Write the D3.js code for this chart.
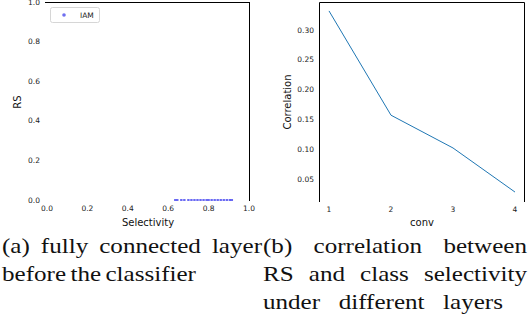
<!DOCTYPE html>
<html>
<head>
<meta charset="utf-8">
<script src="https://cdn.jsdelivr.net/npm/d3@7"></script>
<style>
  body { margin: 0; background: #fff; }
</style>
</head>
<body>
<div id="wrap"></div>
<script>
// left panel: RS vs selectivity (all points sit at RS = 0)
const selectivity = [0.635, 0.645, 0.665, 0.68, 0.70, 0.715, 0.73, 0.745, 0.76, 0.775, 0.79, 0.80, 0.815, 0.83, 0.845, 0.86, 0.875, 0.89, 0.905, 0.915];
const rsValues = [0, 0, 0, 0, 0, 0, 0, 0, 0, 0, 0, 0, 0, 0, 0, 0, 0, 0, 0, 0];
const leftTicks = [0.0, 0.2, 0.4, 0.6, 0.8, 1.0];

// right panel: correlation per conv layer
const convLayers = [1, 2, 3, 4];
const correlation = [0.332, 0.157, 0.102, 0.028];
const corrTicks = [0.05, 0.10, 0.15, 0.20, 0.25, 0.30];

// captions, one entry per line
const capA = ["(a) fully connected layer", "before the classifier"];
const capB = ["(b) correlation between", "RS and class selectivity", "under different layers"];

const svg = d3.select("#wrap").append("svg").attr("width", 530).attr("height", 326);
const tickFont = "DejaVu Sans";

// ---- left plot
const xL = d3.scaleLinear().domain([0, 1]).range([47, 249]);
const yL = d3.scaleLinear().domain([0, 1]).range([200, 2]);
const gL = svg.append("g");

// only top and right spines are visible
gL.append("line").attr("x1", 45).attr("x2", 249.5).attr("y1", 2.5).attr("y2", 2.5).attr("stroke", "#000").attr("stroke-width", 1);
gL.append("line").attr("x1", 249.5).attr("x2", 249.5).attr("y1", 2).attr("y2", 201).attr("stroke", "#000").attr("stroke-width", 1);

gL.selectAll(".yt").data(leftTicks).join("text")
  .attr("x", 40).attr("y", d => yL(d)).attr("dy", "0.35em")
  .attr("text-anchor", "end").attr("font-family", tickFont).attr("font-size", 7.5).attr("fill", "#222")
  .text(d => d3.format(".1f")(d));
gL.selectAll(".xt").data(leftTicks).join("text")
  .attr("x", d => xL(d)).attr("y", 211)
  .attr("text-anchor", "middle").attr("font-family", tickFont).attr("font-size", 7.5).attr("fill", "#222")
  .text(d => d3.format(".1f")(d));

gL.append("text").attr("x", 148).attr("y", 226).attr("text-anchor", "middle")
  .attr("font-family", tickFont).attr("font-size", 10).attr("fill", "#111").text("Selectivity");
gL.append("text").attr("transform", "translate(21,102) rotate(-90)").attr("text-anchor", "middle")
  .attr("font-family", tickFont).attr("font-size", 10).attr("fill", "#111").text("RS");

gL.selectAll(".pt").data(selectivity).join("rect")
  .attr("x", d => xL(d) - 1.2).attr("y", (d, i) => yL(rsValues[i]) - 0.8)
  .attr("width", 2.4).attr("height", 1.6).attr("fill", "#4646f0");

// legend
gL.append("rect").attr("x", 50.5).attr("y", 7.5).attr("width", 49).attr("height", 15).attr("rx", 2)
  .attr("fill", "#fff").attr("stroke", "#d6d6d6");
gL.append("circle").attr("cx", 64).attr("cy", 15).attr("r", 1.8).attr("fill", "#6f6ff0");
gL.append("text").attr("x", 80).attr("y", 15).attr("dy", "0.35em")
  .attr("font-family", tickFont).attr("font-size", 7.5).attr("fill", "#222").text("IAM");

// ---- right plot
const xR = d3.scaleLinear().domain([1, 4]).range([329, 515]);
const yR = d3.scaleLinear().domain([0.013, 0.347]).range([201, 2]);
const gR = svg.append("g");

gR.append("path").attr("d", "M319.5,202V2.5H524.5V202").attr("fill", "none").attr("stroke", "#000").attr("stroke-width", 1);

gR.selectAll(".yt").data(corrTicks).join("text")
  .attr("x", 314).attr("y", d => yR(d)).attr("dy", "0.35em")
  .attr("text-anchor", "end").attr("font-family", tickFont).attr("font-size", 7.5).attr("fill", "#222")
  .text(d => d3.format(".2f")(d));
gR.selectAll(".xt").data(convLayers).join("text")
  .attr("x", d => xR(d)).attr("y", 212)
  .attr("text-anchor", "middle").attr("font-family", tickFont).attr("font-size", 7.5).attr("fill", "#222")
  .text(d => d);

gR.append("text").attr("x", 422).attr("y", 226).attr("text-anchor", "middle")
  .attr("font-family", tickFont).attr("font-size", 10).attr("fill", "#111").text("conv");
gR.append("text").attr("transform", "translate(291,102) rotate(-90)").attr("text-anchor", "middle")
  .attr("font-family", tickFont).attr("font-size", 10).attr("fill", "#111").text("Correlation");

const line = d3.line().x((d, i) => xR(convLayers[i])).y(d => yR(d));
gR.append("path").datum(correlation).attr("d", line)
  .attr("fill", "none").attr("stroke", "#1f77b4").attr("stroke-width", 1);

// ---- captions: words spread so each line spans its column like the paper
function captionLine(x0, x1, y, txt, stretch) {
  const words = txt.split(" ");
  const g = svg.append("g");
  const nodes = words.map(w => g.append("text")
    .attr("y", y).attr("font-family", "Liberation Serif, Times New Roman, serif")
    .attr("font-size", 22).attr("fill", "#111").text(w));
  const widths = nodes.map(n => n.node().getComputedTextLength() * stretch);
  const total = d3.sum(widths);
  const gap = words.length > 1 ? ((x1 - x0) - total) / (words.length - 1) : 0;
  let x = x0;
  nodes.forEach((n, i) => {
    n.attr("transform", `translate(${x},0) scale(${stretch},1)`);
    x += widths[i] + gap;
  });
}

const capAEnds = [262, 196];
const capBEnds = [527, 527, 503];
capA.forEach((t, i) => captionLine(2, capAEnds[i], 253 + i * 28, t, 1.14));
capB.forEach((t, i) => captionLine(263, capBEnds[i], 253 + i * 28, t, 1.14));
</script>
</body>
</html>
